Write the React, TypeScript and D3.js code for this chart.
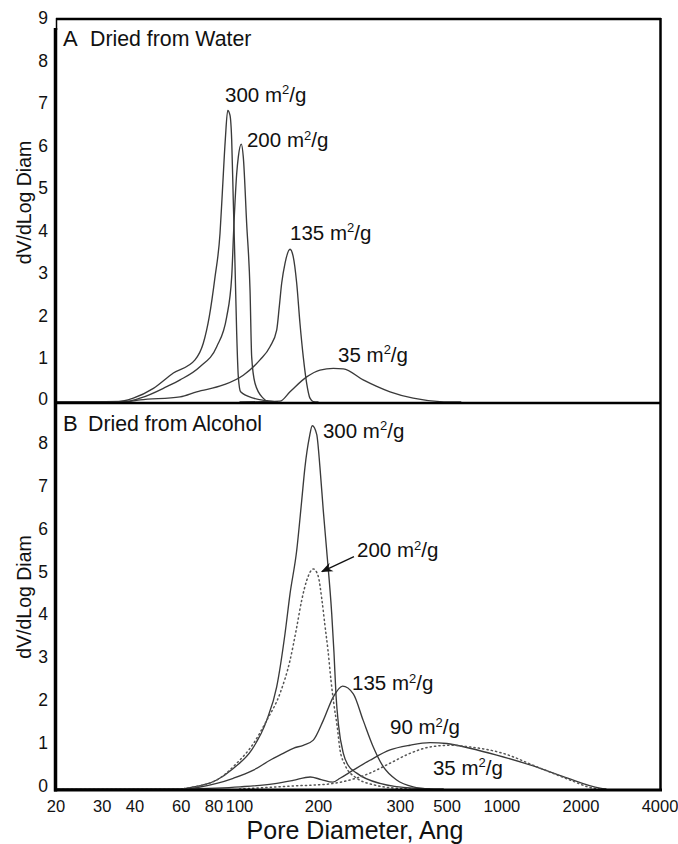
import React from "react";
import * as d3 from "d3";

type Pt = [number, number];

// Panel A: dried from water — pore diameter (Å) vs dV/dLog D
const waterS300: Pt[] = [[20,0],[33.6,0],[39.4,0.09],[47.0,0.32],[56.0,0.68],[67.7,0.99],[72.8,1.38],[76.7,2.0],[80.7,2.94],[84.3,3.96],[86.0,4.9],[88.3,6.16],[90.2,6.85],[92.0,6.74],[93.4,6.16],[94.7,4.75],[96.2,3.18],[97.6,1.61],[99.0,0.59],[101,0.24],[113,0.09],[127,0.03],[140,0]];
const waterS200: Pt[] = [[20,0],[37.2,0.02],[41.8,0.09],[52.8,0.36],[59.4,0.52],[70.7,0.83],[81.9,1.30],[89.4,2.0],[93.4,2.94],[95.3,4.2],[97.6,5.37],[99.0,5.76],[101.6,6.06],[103.4,5.76],[106.5,4.2],[109.7,2.63],[111.3,1.06],[114.6,0.44],[123,0.09],[128.8,0.01],[140,0]];
const waterS135: Pt[] = [[20,0],[37.2,0.01],[41.8,0.05],[59.4,0.12],[68.7,0.24],[86.8,0.40],[103.4,0.63],[119.7,0.99],[130.7,1.30],[138.6,1.69],[141.8,2.24],[144.8,2.79],[149.1,3.26],[155.8,3.59],[160.3,3.41],[165.2,2.79],[170,1.85],[175,1.06],[180.3,0.44],[185.6,0.09],[191.1,0.01],[200,0]];
const waterS35: Pt[] = [[100,0],[142.7,0.02],[155.8,0.24],[180.3,0.59],[202.6,0.75],[227.8,0.79],[248.7,0.78],[296,0.52],[374.6,0.24],[459,0.09],[580,0.01],[700,0]];

// Panel B: dried from alcohol
const alcS300: Pt[] = [[20,0],[60,0],[62.9,0.02],[81.9,0.21],[94.7,0.48],[111.3,0.91],[127,1.60],[138.6,2.38],[149.1,3.62],[155.8,4.55],[165.2,5.56],[172.6,6.72],[177.6,7.50],[184.5,8.19],[189.4,8.47],[196.9,8.27],[202.6,7.50],[208.6,6.49],[214.9,5.56],[224.6,4.09],[229.2,3.16],[233.2,2.19],[238.4,1.49],[248.7,0.83],[259,0.56],[279.7,0.37],[343,0.13],[459,0.02],[600,0]];
const alcS200: Pt[] = [[20,0],[60,0],[62.9,0.02],[81.9,0.21],[97.6,0.60],[113,1.06],[127,1.60],[142.7,2.23],[155.8,3.0],[165.2,3.77],[172.6,4.40],[180.3,4.86],[191.1,5.13],[199.1,4.98],[206.2,4.40],[211.7,3.81],[217.4,3.23],[223.2,2.53],[229.2,1.95],[235.3,1.49],[241.6,0.91],[252.4,0.56],[275.5,0.28],[328,0.09],[391,0.02],[450,0]];
const alcS135: Pt[] = [[20,0],[62,0],[70,0.04],[81.9,0.13],[94.7,0.25],[113,0.44],[130.7,0.67],[146.8,0.83],[160.3,0.95],[175,1.02],[191.1,1.14],[208.6,1.60],[227.8,2.15],[247,2.40],[271.4,2.22],[296,1.60],[323.4,0.98],[353,0.52],[397,0.21],[459,0.05],[532,0]];
const alcS90: Pt[] = [[60,0],[100.5,0.05],[134.5,0.12],[160,0.2],[186,0.28],[205,0.22],[227,0.16],[241.6,0.25],[271.4,0.44],[314,0.67],[374.6,0.91],[446,1.02],[532,1.08],[616,1.06],[755,0.95],[955,0.79],[1279,0.56],[1712,0.29],[2364,0.02],[2500,0]];
const alcS35: Pt[] = [[100,0],[160,0.07],[221,0.12],[263.6,0.21],[314,0.37],[374.6,0.60],[446,0.83],[532,0.98],[634,1.02],[755,0.98],[1012,0.83],[1356,0.52],[1816,0.21],[2222,0.02],[2400,0]];

// Axis ticks
const xTickLabels = ["20", "30", "40", "60", "80", "100", "200", "300", "500", "1000", "2000", "4000"];
const xTickAt = [20, 30, 40, 60, 80, 100, 200, 410, 618, 1000, 2000, 4000];
const yTicksA = [0, 1, 2, 3, 4, 5, 6, 7, 8, 9];
const yTicksB = [0, 1, 2, 3, 4, 5, 6, 7, 8];

// Curve labels (anchor in data units: diameter, dV/dLogD at baseline)
const labelsA = [
  { text: "300", x: 88.1, y: 7.05 },
  { text: "200", x: 106.8, y: 5.99 },
  { text: "135", x: 155.8, y: 3.81 },
  { text: "35", x: 237.4, y: 0.94 },
];
const labelsB = [
  { text: "300", x: 208, y: 8.19 },
  { text: "200", x: 280.4, y: 5.4 },
  { text: "135", x: 268.4, y: 2.3 },
  { text: "90", x: 374.6, y: 1.28 },
  { text: "35", x: 546, y: 0.33 },
];
const arrowB = { from: [273, 5.42] as Pt, to: [206.2, 5.07] as Pt };

const W = 678;
const H = 844;
const FONT = "'Liberation Sans', Arial, Helvetica, sans-serif";
const INK = "#3a3a3a";

const x = d3.scaleLog().domain([20, 4000]).range([56, 660]);
const yA = d3.scaleLinear().domain([0, 9]).range([402, 19]);
const yB = d3.scaleLinear().domain([0, 9]).range([789, 403]);

function pathFor(data: Pt[], y: d3.ScaleLinear<number, number>) {
  return d3
    .line<Pt>()
    .x((d) => x(d[0]))
    .y((d) => y(d[1]))
    .curve(d3.curveMonotoneX)(data) as string;
}

function AreaLabel({ text, px, py }: { text: string; px: number; py: number }) {
  return (
    <text x={px} y={py} fontSize={20.5} fill="#111" fontFamily={FONT}>
      {text} m
      <tspan dy={-7.5} fontSize={13}>2</tspan>
      <tspan dy={7.5}>/g</tspan>
    </text>
  );
}

export default function App() {
  const solidA = [waterS300, waterS200, waterS135, waterS35];
  const solidB = [alcS300, alcS135, alcS90];
  const dottedB = [alcS200, alcS35];

  const ax1 = x(arrowB.from[0]);
  const ay1 = yB(arrowB.from[1]);
  const ax2 = x(arrowB.to[0]);
  const ay2 = yB(arrowB.to[1]);

  return (
    <svg
      width={W}
      height={H}
      style={{ position: "absolute", left: 0, top: 0, background: "#fff" }}
      fontFamily={FONT}
    >
      <defs>
        <marker id="arrowHead" viewBox="0 0 10 10" refX="9" refY="5" markerWidth="9" markerHeight="9" orient="auto">
          <path d="M0,1 L10,5 L0,9 L3,5 Z" fill="#111" />
        </marker>
      </defs>
      <rect width={W} height={H} fill="#fff" />

      {/* curves, panel A */}
      {solidA.map((s, i) => (
        <path key={"a" + i} d={pathFor(s, yA)} fill="none" stroke={INK} strokeWidth={1.35} />
      ))}

      {/* curves, panel B */}
      {solidB.map((s, i) => (
        <path key={"bs" + i} d={pathFor(s, yB)} fill="none" stroke={INK} strokeWidth={1.35} />
      ))}
      {dottedB.map((s, i) => (
        <path
          key={"bd" + i}
          d={pathFor(s, yB)}
          fill="none"
          stroke="#555"
          strokeWidth={1.5}
          strokeDasharray="1.2 3.2"
          strokeLinecap="round"
        />
      ))}

      {/* frame */}
      <line x1={56} x2={661} y1={19} y2={19} stroke="#000" strokeWidth={2.5} />
      <line x1={660.5} x2={660.5} y1={18} y2={791} stroke="#000" strokeWidth={2.5} />
      <line x1={56} x2={661} y1={403} y2={403} stroke="#000" strokeWidth={2.5} />
      <line x1={54} x2={662} y1={790} y2={790} stroke="#000" strokeWidth={3} />
      <line x1={56.5} x2={56.5} y1={18} y2={30} stroke="#000" strokeWidth={1.5} />
      <line x1={55.5} x2={55.5} y1={28} y2={791.5} stroke="#000" strokeWidth={3.5} />

      {/* y ticks */}
      {yTicksA.map((t) => (
        <text key={"ya" + t} x={48} y={yA(t) - (t === 0 ? 3 : 1)} textAnchor="end" dominantBaseline="central" fontSize={17.5} fill="#111">
          {t}
        </text>
      ))}
      {yTicksB.map((t) => (
        <text key={"yb" + t} x={48} y={yB(t) - 3} textAnchor="end" dominantBaseline="central" fontSize={17.5} fill="#111">
          {t}
        </text>
      ))}

      {/* x tick labels */}
      {xTickLabels.map((l, i) => (
        <text key={"x" + l} x={x(xTickAt[i])} y={806} textAnchor="middle" dominantBaseline="central" fontSize={16.5} fill="#111">
          {l}
        </text>
      ))}

      {/* axis titles */}
      <text transform={`translate(24,${(yA(0) + yA(9)) / 2 - 8}) rotate(-90)`} textAnchor="middle" dominantBaseline="central" fontSize={19.5} fill="#111">
        dV/dLog Diam
      </text>
      <text transform={`translate(24,${(yB(0) + yB(9)) / 2 + 1}) rotate(-90)`} textAnchor="middle" dominantBaseline="central" fontSize={19.5} fill="#111">
        dV/dLog Diam
      </text>
      <text x={355} y={839} textAnchor="middle" fontSize={25} fill="#111">
        Pore Diameter, Ang
      </text>

      {/* panel titles */}
      <text x={63} y={45.5} fontSize={22} fill="#111">A</text>
      <text x={90} y={45.5} fontSize={21.3} fill="#111">Dried from Water</text>
      <text x={63} y={431} fontSize={22} fill="#111">B</text>
      <text x={88} y={431} fontSize={21.3} fill="#111">Dried from Alcohol</text>

      {/* curve labels */}
      {labelsA.map((l) => (
        <AreaLabel key={"la" + l.text} text={l.text} px={x(l.x)} py={yA(l.y)} />
      ))}
      {labelsB.map((l) => (
        <AreaLabel key={"lb" + l.text} text={l.text} px={x(l.x)} py={yB(l.y)} />
      ))}
      <line x1={ax1} y1={ay1} x2={ax2} y2={ay2} stroke="#111" strokeWidth={1.3} markerEnd="url(#arrowHead)" />
    </svg>
  );
}
